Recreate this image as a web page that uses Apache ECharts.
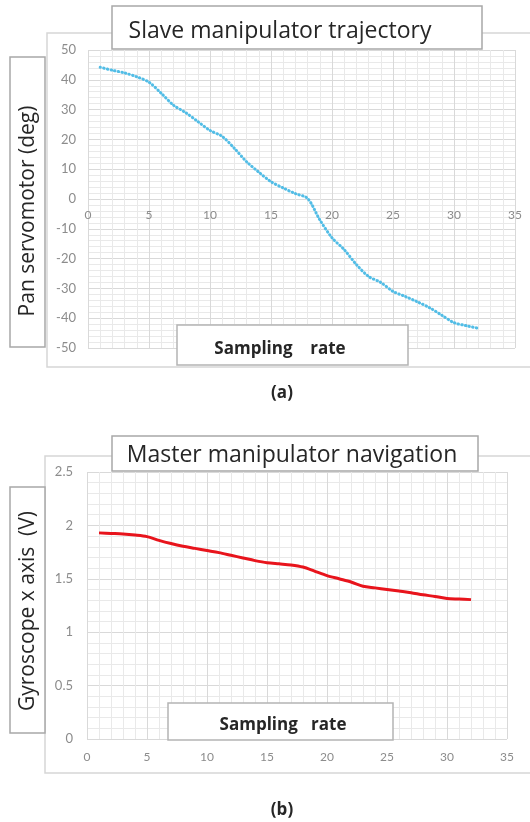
<!DOCTYPE html>
<html>
<head>
<meta charset="utf-8">
<title>Manipulator trajectory</title>
<script src="https://cdn.jsdelivr.net/npm/echarts@6/dist/echarts.min.js"></script>
<style>
html, body { margin: 0; padding: 0; background: #fff; }
#main { width: 530px; height: 822px; }
</style>
</head>
<body>
<div id="main"></div>
<script>
// sampling index (x)
var sampleX = [1,2,3,4,5,6,7,8,9,10,11,12,13,14,15,16,17,18,19,20,21,22,23,24,25,26,27,28,29,30,31,32];

// (a) slave manipulator, pan servomotor angle (deg)
var panDeg = [44.2,43.2,42.3,41,39.2,35.5,31.5,29,26,23,21,17,12.5,9,5.8,3.7,1.8,0.2,
	-7,-13,-17,-22,-26,-28,-31,-32.7,-34.5,-36.5,-39,-41.5,-42.5,-43.4];

// (b) master manipulator, gyroscope x axis (V)
var gyroV = [1.93,1.925,1.92,1.91,1.895,1.86,1.83,1.805,1.785,1.765,1.745,1.72,1.695,1.67,1.65,1.64,
	1.63,1.61,1.57,1.53,1.50,1.47,1.43,1.415,1.40,1.385,1.37,1.35,1.335,1.315,1.31,1.305];

var titleA = "Slave manipulator trajectory";
var titleB = "Master manipulator navigation";
var yNameA = "Pan servomotor (deg)";
var yNameB = "Gyroscope x axis  (V)";

function pairs(xs, ys)
{
	var out = [];
	for (var i = 0; i < xs.length; i++) {
		out.push([xs[i], ys[i]]);
	}
	return out;
}

var FONT = "'Open Sans', 'Noto Sans', sans-serif";
var TICKFONT = "Lato, 'Open Sans', sans-serif";
var majorColor = "#d9d9d9";
var minorColor = "#e9e9e9";

function xAxisCfg(gridIndex, offset, margin)
{
	return {
		type: 'value',
		gridIndex: gridIndex,
		min: 0, max: 35, interval: 5,
		offset: offset,
		axisLine: { show: false, onZero: false },
		axisTick: { show: false },
		axisLabel: { color: '#8c8c8c', fontSize: 12, fontFamily: TICKFONT, margin: margin },
		splitLine: { show: true, lineStyle: { color: majorColor, width: 1 } },
		minorTick: { show: false, splitNumber: 5 },
		minorSplitLine: { show: true, lineStyle: { color: minorColor, width: 1 } }
	};
}

function yAxisCfg(gridIndex, min, max, interval, margin)
{
	return {
		type: 'value',
		gridIndex: gridIndex,
		min: min, max: max, interval: interval,
		axisLine: { show: false },
		axisTick: { show: false },
		axisLabel: { color: '#8c8c8c', fontSize: 13, fontFamily: TICKFONT, margin: margin },
		splitLine: { show: true, lineStyle: { color: majorColor, width: 1 } },
		minorTick: { show: false, splitNumber: 5 },
		minorSplitLine: { show: true, lineStyle: { color: minorColor, width: 1 } }
	};
}

function box(x, y, w, h, stroke, z)
{
	return {
		type: 'rect', z: z,
		shape: { x: x, y: y, width: w, height: h },
		style: { fill: '#fff', stroke: stroke, lineWidth: 1.5 }
	};
}

function label(text, x, y, size, weight, rot)
{
	return {
		type: 'text', z: 20,
		x: x, y: y, rotation: rot || 0,
		style: {
			text: text, x: 0, y: 0,
			fontSize: size, fontWeight: weight, fontFamily: FONT,
			fill: '#262626', align: 'center', verticalAlign: 'middle'
		}
	};
}

var myChart = echarts.init(document.getElementById('main'));

var option = {
	backgroundColor: '#fff',
	animation: false,
	grid: [
		{ left: 88, top: 50, width: 427, height: 298, outerBoundsMode: 'none' },
		{ left: 87, top: 472, width: 420, height: 267, outerBoundsMode: 'none' }
	],
	xAxis: [
		// labels of (a) sit on the zero line, 149px above the plot bottom
		xAxisCfg(0, -149, 10),
		xAxisCfg(1, 0, 12)
	],
	yAxis: [
		yAxisCfg(0, -50, 50, 10, 12),
		yAxisCfg(1, 0, 2.5, 0.5, 14)
	],
	series: [
		{
			name: titleA,
			type: 'line',
			xAxisIndex: 0, yAxisIndex: 0,
			data: pairs(sampleX, panDeg),
			smooth: 0.3,
			symbol: 'none',
			z: 5,
			lineStyle: { color: '#52bde6', width: 3, type: [0.5, 3.2], cap: 'round' }
		},
		{
			name: titleB,
			type: 'line',
			xAxisIndex: 1, yAxisIndex: 1,
			data: pairs(sampleX, gyroV),
			smooth: 0.3,
			symbol: 'none',
			z: 5,
			lineStyle: { color: '#e8141c', width: 3 }
		}
	],
	graphic: [
		// outer chart borders
		{ type: 'rect', z: -5, shape: { x: 47, y: 33, width: 490, height: 334 },
		  style: { fill: 'none', stroke: '#d6d6d6', lineWidth: 1.5 } },
		{ type: 'rect', z: -5, shape: { x: 45, y: 456, width: 490, height: 317 },
		  style: { fill: 'none', stroke: '#d6d6d6', lineWidth: 1.5 } },

		// (a) titles
		box(112, 6, 370, 43, '#a8a8a8', 10),
		label(titleA, 280, 31, 23, 'normal'),
		box(10, 57, 35, 290, '#a8a8a8', 10),
		label(yNameA, 28, 211, 21, 'normal', Math.PI / 2),
		box(177, 325, 231, 40, '#b4b4b4', 10),
		label("Sampling    rate", 280, 349, 17, 'bold'),
		label('(a)', 282, 393, 17, 'bold'),

		// (b) titles
		box(112, 436, 366, 35, '#a8a8a8', 10),
		label(titleB, 292, 455, 23, 'normal'),
		box(10, 487, 35, 246, '#a8a8a8', 10),
		label(yNameB, 28, 611, 21, 'normal', Math.PI / 2),
		box(168, 703, 225, 37, '#b4b4b4', 10),
		label("Sampling   rate", 283, 725, 17, 'bold'),
		label('(b)', 282, 810, 17, 'bold')
	]
};

myChart.setOption(option);
</script>
</body>
</html>
